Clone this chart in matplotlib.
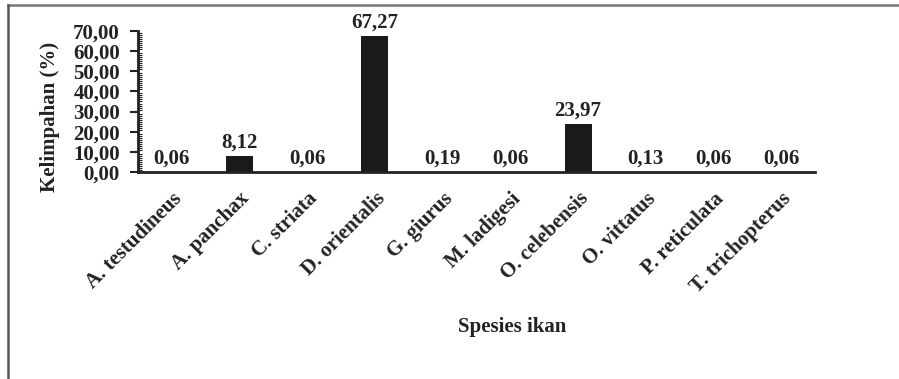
import matplotlib
matplotlib.use("Agg")
import matplotlib.pyplot as plt
from matplotlib.lines import Line2D
from matplotlib.ticker import MultipleLocator, FuncFormatter

species = ["A. testudineus", "A. panchax", "C. striata", "D. orientalis", "G. giurus",
           "M. ladigesi", "O. celebensis", "O. vittatus", "P. reticulata", "T. trichopterus"]
abundance = [0.06, 8.12, 0.06, 67.27, 0.19, 0.06, 23.97, 0.13, 0.06, 0.06]

plt.rcParams["font.family"] = ["Liberation Serif", "DejaVu Serif"]
plt.rcParams["font.weight"] = "bold"

def comma(v, pos=None):
    return f"{v:.2f}".replace(".", ",")

fig = plt.figure(figsize=(8.99, 3.79), dpi=100)
ax = fig.add_axes([138 / 899, 1 - 172 / 379, 677 / 899, 141 / 379])

x = range(len(species))
bars = ax.bar(x, abundance, width=0.4, color="#1a1a1a")
for b, v in zip(bars, abundance):
    ax.annotate(comma(v), (b.get_x() + b.get_width() / 2, v), xytext=(0, 2.5),
                textcoords="offset points", ha="center", va="bottom",
                fontsize=15, fontweight="bold", color="#222222")

ax.set_xlim(-0.5, 9.5)
ax.set_ylim(0, 70)
ax.yaxis.set_major_locator(MultipleLocator(10))
ax.yaxis.set_minor_locator(MultipleLocator(1))
ax.yaxis.set_major_formatter(FuncFormatter(comma))
ax.tick_params(axis="y", which="major", direction="out", length=6, width=1.5,
               labelsize=15, pad=7, colors="#222222")
ax.tick_params(axis="y", which="minor", direction="in", length=3, width=0.8, color="#222222")
ax.set_xticks(list(x))
ax.set_xticklabels(species, rotation=45, ha="right", va="top", rotation_mode="anchor",
                   fontsize=15, fontweight="bold", color="#222222")
ax.tick_params(axis="x", length=0, pad=12)

for s in ["top", "right"]:
    ax.spines[s].set_visible(False)
for s in ["left", "bottom"]:
    ax.spines[s].set_linewidth(2)
    ax.spines[s].set_color("#222222")

ax.set_ylabel("Kelimpahan (%)", fontsize=15, fontweight="bold", color="#222222")
ax.yaxis.set_label_coords(-0.115, 0.39)
fig.text(512 / 899, 1 - 327 / 379, "Spesies ikan", ha="center", va="center",
         fontsize=15, fontweight="bold", color="#222222")

# partial border around the figure (top and left edges)
fig.add_artist(Line2D([8 / 899, 1], [1 - 5 / 379, 1 - 5 / 379], transform=fig.transFigure,
                      color="#777777", lw=1.8))
fig.add_artist(Line2D([8 / 899, 8 / 899], [0, 1 - 5 / 379], transform=fig.transFigure,
                      color="#555555", lw=1.8))

fig.savefig("out.png", dpi=100)
